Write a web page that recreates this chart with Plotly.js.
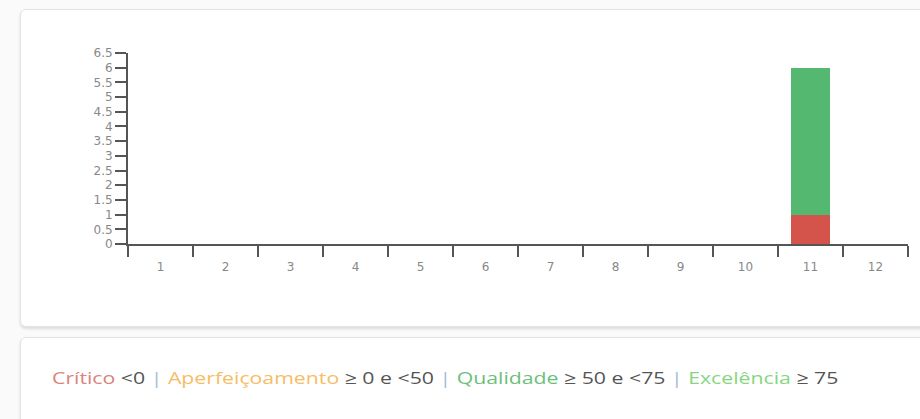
<!DOCTYPE html>
<html>
<head>
<meta charset="utf-8">
<script src="https://cdn.plot.ly/plotly-3.0.1.min.js"></script>
<style>
  html, body { margin: 0; padding: 0; width: 920px; height: 419px; overflow: hidden; background: #fafafa; }
  .card { position: absolute; background: #fff; border: 1px solid #e3e3e3; border-radius: 6px;
          box-shadow: 0 2px 3px rgba(0,0,0,0.12); box-sizing: border-box; }
  #card1 { left: 20px; top: 9px; width: 920px; height: 318px; }
  #card2 { left: 20px; top: 337px; width: 920px; height: 120px; }
  #legend { position: absolute; left: 52px; top: 366px; font-family: "Open Sans", sans-serif; font-size: 17px;
            color: #555; white-space: nowrap; transform: scaleX(1.25); transform-origin: 0 0; }
  #chart { position: absolute; left: 0; top: 0; width: 920px; height: 419px; }
</style>
</head>
<body>
<div class="card" id="card1"></div>
<div class="card" id="card2"></div>
<div id="legend"><span style="color:#d9837b">Crítico</span> &lt;0 <span style="color:#a6bad6">|</span> <span style="color:#f6bd66">Aperfeiçoamento</span> ≥ 0 e &lt;50 <span style="color:#a6bad6">|</span> <span style="color:#6cbf7a">Qualidade</span> ≥ 50 e &lt;75 <span style="color:#a6bad6">|</span> <span style="color:#86d67f">Excelência</span> ≥ 75</div>
<div id="chart"></div>
<script>
const categories = ["1","2","3","4","5","6","7","8","9","10","11","12"];
const critico    = [0,0,0,0,0,0,0,0,0,0,1,0];
const qualidade  = [0,0,0,0,0,0,0,0,0,0,5,0];
const seriesNames = ["Crítico", "Qualidade"];
const yTickVals = [0,0.5,1,1.5,2,2.5,3,3.5,4,4.5,5,5.5,6,6.5];

const traces = [
  { type: "bar", name: seriesNames[0], x: categories, y: critico, marker: { color: "#d4534b" } },
  { type: "bar", name: seriesNames[1], x: categories, y: qualidade, marker: { color: "#54b871" } }
];

const layout = {
  width: 920, height: 419,
  margin: { l: 128, r: 12, t: 53, b: 175 },
  paper_bgcolor: "rgba(0,0,0,0)",
  plot_bgcolor: "rgba(0,0,0,0)",
  barmode: "stack",
  bargap: 0.4,
  showlegend: false,
  font: { family: "DejaVu Sans, sans-serif", color: "#888" },
  xaxis: {
    type: "category",
    tickson: "boundaries",
    ticks: "outside", ticklen: 11, tickwidth: 2, tickcolor: "#555",
    showline: true, linecolor: "#555", linewidth: 2,
    showgrid: false, zeroline: false,
    ticklabelstandoff: 11,
    tickfont: { size: 12, color: "#888" },
    fixedrange: true
  },
  yaxis: {
    range: [0, 6.5],
    tickvals: yTickVals,
    ticktext: yTickVals.map(String),
    ticks: "outside", ticklen: 11, tickwidth: 2, tickcolor: "#555",
    showline: true, linecolor: "#555", linewidth: 2,
    showgrid: false, zeroline: false,
    tickfont: { size: 12, color: "#888" },
    fixedrange: true
  }
};

Plotly.newPlot("chart", traces, layout, { displayModeBar: false, staticPlot: true });
</script>
</body>
</html>
